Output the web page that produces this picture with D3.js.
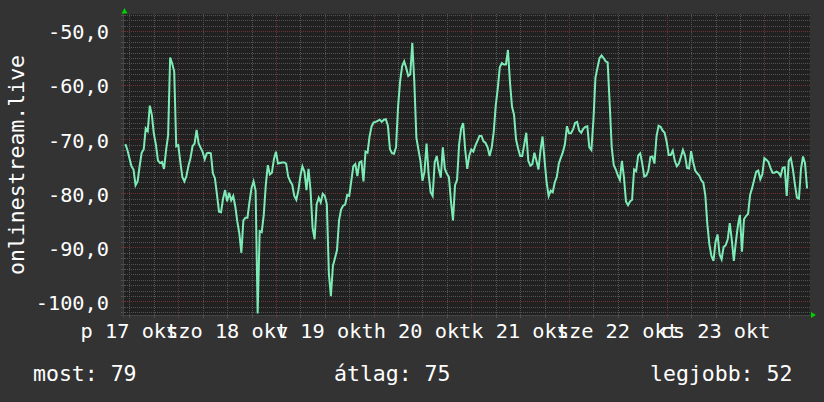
<!DOCTYPE html>
<html><head><meta charset="utf-8">
<script src="https://cdn.jsdelivr.net/npm/d3@7"></script>
<style>html,body{margin:0;padding:0;background:#333333;}svg{display:block;}</style>
</head><body>
<svg id="chart" width="824" height="402"></svg>
<script>
// ---- data ----
const startTime = new Date(2025, 9, 17, 11, 0);   // first sample
const stepMinutes = 30;
const values = [
-70.9,-72.0,-73.5,-75.0,-75.6,-78.5,-77.8,-75.0,-72.5,-71.9,
-68.0,-68.5,-63.8,-65.5,-69.0,-71.0,-73.9,-74.4,-74.2,-75.5,
-72.0,-69.3,-54.9,-56.0,-57.5,-71.3,-71.1,-74.2,-77.0,-77.8,
-76.8,-74.9,-73.5,-71.3,-70.8,-68.3,-70.8,-71.6,-72.4,-73.7,
-72.6,-72.5,-72.6,-76.3,-77.2,-80.2,-83.4,-83.5,-81.0,-79.4,
-81.5,-79.9,-81.3,-80.5,-82.4,-85.2,-87.4,-91.0,-85.0,-84.5,
-84.5,-81.6,-79.0,-77.8,-79.5,-102.2,-87.0,-87.2,-84.0,-78.5,
-74.8,-76.5,-76.2,-73.7,-72.3,-74.5,-74.4,-74.3,-74.3,-74.5,
-76.9,-77.8,-78.4,-80.5,-81.2,-79.5,-76.8,-75.0,-76.0,-79.4,
-75.5,-79.5,-86.4,-88.5,-82.0,-80.8,-81.7,-80.1,-80.5,-82.0,
-94.8,-99.0,-93.4,-92.0,-90.5,-85.0,-83.0,-82.3,-82.1,-80.3,
-80.5,-77.8,-75.0,-74.6,-76.8,-74.3,-74.1,-77.8,-72.3,-72.5,
-69.5,-67.6,-66.9,-66.8,-66.6,-66.4,-66.8,-66.4,-66.3,-67.5,
-71.8,-72.6,-72.7,-71.5,-64.0,-59.3,-56.5,-55.6,-56.8,-58.3,
-58.0,-52.2,-59.5,-69.7,-71.9,-74.0,-77.7,-76.0,-70.8,-76.4,
-79.8,-80.5,-74.3,-73.1,-75.5,-77.1,-71.5,-75.5,-76.4,-77.0,
-81.5,-85.0,-78.5,-77.5,-71.0,-68.0,-67.0,-72.0,-75.5,-73.0,
-71.9,-72.3,-71.2,-70.3,-69.4,-69.4,-70.4,-70.7,-71.5,-73.1,
-71.6,-68.7,-63.8,-60.6,-56.7,-55.9,-56.2,-56.2,-53.5,-59.5,
-64.0,-65.5,-70.1,-71.7,-73.1,-73.1,-71.0,-68.8,-74.0,-74.9,
-74.6,-72.5,-74.0,-75.6,-72.0,-69.5,-73.9,-78.0,-80.5,-79.5,
-79.8,-78.0,-77.0,-74.5,-73.4,-72.4,-70.9,-67.6,-68.9,-68.9,
-68.2,-67.0,-66.8,-68.4,-68.8,-68.1,-67.7,-67.6,-71.5,-72.0,
-66.5,-58.6,-56.8,-55.0,-54.5,-55.0,-55.6,-55.8,-63.5,-71.5,
-74.8,-75.6,-76.7,-77.5,-74.0,-77.0,-81.5,-82.2,-81.5,-81.2,
-75.6,-75.9,-73.0,-72.6,-74.5,-76.9,-76.7,-75.8,-73.3,-73.2,
-74.5,-69.5,-67.5,-67.7,-68.4,-68.8,-70.5,-72.9,-72.9,-72.1,
-74.0,-75.0,-74.5,-73.3,-72.0,-73.0,-75.3,-75.4,-72.2,-74.2,
-75.8,-76.3,-76.7,-77.6,-78.0,-80.4,-85.8,-89.5,-91.6,-92.5,
-89.0,-87.6,-91.3,-92.2,-89.9,-89.6,-88.5,-85.5,-88.6,-92.5,
-89.0,-86.0,-84.0,-90.8,-84.8,-84.2,-83.8,-80.3,-79.0,-77.5,
-76.0,-75.8,-77.4,-76.5,-73.5,-73.8,-74.2,-75.3,-76.2,-76.2,
-76.0,-76.2,-76.8,-75.3,-75.2,-80.5,-74.0,-73.5,-75.5,-78.3,
-80.8,-81.0,-75.5,-73.2,-74.5,-79.1
];
const yTickValues = [-50, -60, -70, -80, -90, -100];
const dayLabels = ["p 17 okt", "szo 18 okt", "v 19 okt", "h 20 okt", "k 21 okt", "sze 22 okt", "cs 23 okt"];
const dayLabelDates = [17, 18, 19, 20, 21, 22, 23].map(d => new Date(2025, 9, d, 12, 0));
const axisTitle = "onlinestream.live";
const legendNames = ["most", "átlag", "legjobb"];
const legendValues = [79, 75, 52];

// ---- layout ----
const W = 824, H = 402;
const L = 123, R = 810, T = 14, B = 315;
const svg = d3.select("#chart");
const x = d3.scaleTime()
  .domain([new Date(2025, 9, 17, 10, 25), new Date(2025, 9, 24, 11, 13)])
  .range([L, R]);
const y = d3.scaleLinear().domain([-102.5, -46.85]).range([B, T]);

const series = values.map((v, i) => ({ t: d3.timeMinute.offset(startTime, i * stepMinutes), v }));

svg.append("rect").attr("width", W).attr("height", H).attr("fill", "#333333");
svg.append("rect").attr("x", L).attr("y", T).attr("width", R - L).attr("height", B - T).attr("fill", "#212121");

const minorCol = "#525252", majorCol = "#6e3232";
const grid = svg.append("g");
const px = v => Math.round(v) + 0.5;

// horizontal grid
const hMinor = d3.range(-102, -46, 1).filter(v => v % 10 !== 0);
const hMajor = d3.range(-100, -46, 10);
grid.append("g").selectAll("line").data(hMinor).join("line")
  .attr("x1", L).attr("x2", R).attr("y1", d => px(y(d))).attr("y2", d => px(y(d)))
  .attr("stroke", minorCol).attr("stroke-dasharray", "1,1");
grid.append("g").selectAll("line").data(hMajor).join("line")
  .attr("x1", L).attr("x2", R).attr("y1", d => px(y(d))).attr("y2", d => px(y(d)))
  .attr("stroke", majorCol).attr("stroke-dasharray", "1,1");
// left ticks
grid.append("g").selectAll("line").data(hMinor.concat(hMajor)).join("line")
  .attr("x1", L - 2).attr("x2", L + 2).attr("y1", d => px(y(d))).attr("y2", d => px(y(d)))
  .attr("stroke", d => d % 10 === 0 ? majorCol : minorCol);

// vertical grid
const vAll = d3.timeHour.every(6).range(x.domain()[0], x.domain()[1]);
const isMajor = d => d.getHours() === 0;
grid.append("g").selectAll("line").data(vAll).join("line")
  .attr("x1", d => px(x(d))).attr("x2", d => px(x(d))).attr("y1", T).attr("y2", B)
  .attr("stroke", d => isMajor(d) ? majorCol : minorCol).attr("stroke-dasharray", "1,1");
grid.append("g").selectAll("line").data(vAll).join("line")
  .attr("x1", d => px(x(d))).attr("x2", d => px(x(d))).attr("y1", B - 1).attr("y2", B + 3)
  .attr("stroke", d => isMajor(d) ? majorCol : minorCol);

// axes
svg.append("line").attr("x1", L - 2).attr("x2", R + 2).attr("y1", B + 0.5).attr("y2", B + 0.5)
  .attr("stroke", "#444");
svg.append("line").attr("x1", L + 0.5).attr("x2", L + 0.5).attr("y1", T - 2).attr("y2", B + 3)
  .attr("stroke", "#444");
svg.append("path").attr("d", `M${L - 1.5},13.5 L${L + 4.5},13.5 L${L + 1.5},8 Z`).attr("fill", "#00d000");
svg.append("path").attr("d", `M${R + 1},312 L${R + 1},318 L${R + 6},315 Z`).attr("fill", "#00d000");

// the line
const line = d3.line().x(d => x(d.t)).y(d => y(d.v));
svg.append("path").datum(series).attr("d", line)
  .attr("fill", "none").attr("stroke", "#7debb6").attr("stroke-width", 2).attr("stroke-linejoin", "miter");

// labels
const mono = "'DejaVu Sans Mono', monospace";
svg.append("g").selectAll("text").data(yTickValues).join("text")
  .attr("x", 109).attr("y", d => y(d) + 8.3).attr("text-anchor", "end")
  .attr("font-family", mono).attr("font-size", "20.3px").attr("fill", "#ffffff")
  .text(d => d3.format(".1f")(d).replace(".", ",").replace("−", "-"));

svg.append("g").selectAll("text").data(dayLabels).join("text")
  .attr("x", (d, i) => x(dayLabelDates[i])).attr("y", 337.5).attr("text-anchor", "middle")
  .attr("font-family", mono).attr("font-size", "20.3px").attr("fill", "#ffffff")
  .style("white-space", "pre")
  .text(d => d);

svg.append("text").attr("transform", "translate(24,165) rotate(-90)").attr("text-anchor", "middle")
  .attr("font-family", mono).attr("font-size", "21.5px").attr("fill", "#ffffff").text(axisTitle);

const legendX = [33, 334, 650];
svg.append("g").selectAll("text").data(legendNames).join("text")
  .attr("x", (d, i) => legendX[i]).attr("y", 381)
  .attr("font-family", mono).attr("font-size", "21.5px").attr("fill", "#ffffff")
  .style("white-space", "pre")
  .text((d, i) => `${d}: ${legendValues[i]}`);
</script>
</body></html>
